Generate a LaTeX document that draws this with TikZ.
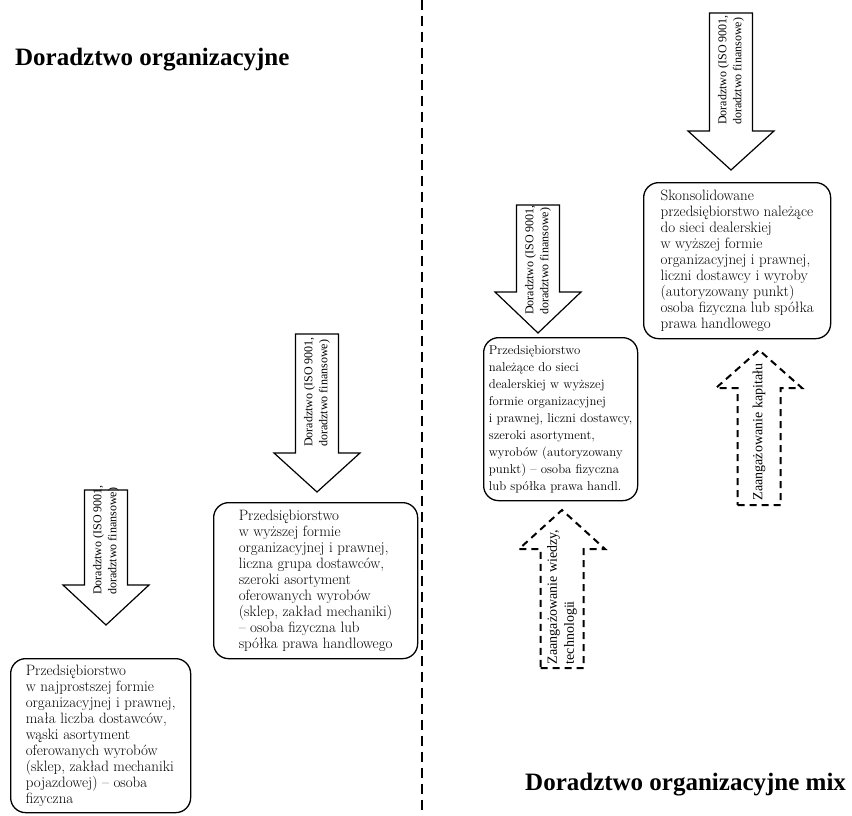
\documentclass[tikz,border=0pt]{standalone}
\usepackage{fontspec}
\newfontfamily\timesfont{Liberation Serif}
\newcommand{\blockarrow}[5][]{%
  \draw[barrow,#1] (#2-21.5,#3) -- (#2+21.5,#3) -- (#2+21.5,#4) -- (#2+43,#4)
    -- (#2,#5) -- (#2-43,#4) -- (#2-21.5,#4) -- cycle;}

\begin{document}
\begin{tikzpicture}[x=1pt,y=-1pt,line join=miter]
	\tikzstyle{box}=[draw,line width=1.3pt,rounded corners=15pt,anchor=north west,align=left,inner sep=0pt,font=\fontsize{15}{16}\selectfont];
	\tikzstyle{barrow}=[draw,line width=1.2pt,fill=white];
	\tikzstyle{dbarrow}=[dash pattern=on 7pt off 5pt,line width=2pt];
	\tikzstyle{atxt}=[rotate=90,align=left,inner sep=0pt,font=\timesfont\fontsize{12}{15}\selectfont];
	\tikzstyle{dtxt}=[atxt,font=\timesfont\fontsize{14}{17}\selectfont];
	\tikzstyle{title}=[anchor=base west,inner sep=0pt,font=\timesfont\bfseries\fontsize{25}{30}\selectfont];
	\tikzstyle{sep}=[dash pattern=on 10pt off 6pt,line width=2.2pt];
	\useasboundingbox (0,0) rectangle (852,816);
	% dividing line
	\draw[sep] (422,0) -- (422,816);
	\node[title] (org)    at (15,66)  {Doradztwo organizacyjne};
	\node[title] (orgmix) at (525,790) {Doradztwo organizacyjne mix};
	% left half
	\blockarrow{106}{490}{585}{625}
	\node[atxt] (t1) at (106,540) {Doradztwo (ISO 9001,\\doradztwo finansowe)};
	\node[box,minimum width=180,minimum height=154] (b1) at (10,658)
		{Przedsiębiorstwo\\w najprostszej formie\\organizacyjnej i prawnej,\\mała liczba dostawców,\\wąski asortyment\\oferowanych wyrobów\\(sklep, zakład mechaniki\\pojazdowej) – osoba\\fizyczna};
	\blockarrow{317}{334}{453}{492}
	\node[atxt] (t2) at (317,392) {Doradztwo (ISO 9001,\\doradztwo finansowe)};
	\node[box,minimum width=204,minimum height=156] (b2) at (213,502)
		{Przedsiębiorstwo\\w wyższej formie\\organizacyjnej i prawnej,\\liczna grupa dostawców,\\szeroki asortyment\\oferowanych wyrobów\\(sklep, zakład mechaniki)\\– osoba fizyczna lub\\spółka prawa handlowego};
	% right half
	\blockarrow{538}{205}{292}{333}
	\node[atxt] (t3) at (538,260) {Doradztwo (ISO 9001,\\doradztwo finansowe)};
	\node[box,minimum width=154,minimum height=163,font=\fontsize{12.8}{17}\selectfont] (b3) at (483,337)
		{Przedsiębiorstwo\\należące do sieci\\dealerskiej w wyższej\\formie organizacyjnej\\i prawnej, liczni dostawcy,\\szeroki asortyment,\\wyrobów (autoryzowany\\punkt) – osoba fizyczna\\lub spółka prawa handl.};
	\blockarrow[dbarrow]{562}{668}{549}{510}
	\node[dtxt] (t4) at (562,597) {Zaangażowanie wiedzy,\\technologii};
	\blockarrow{731}{13}{131}{170}
	\node[atxt] (t5) at (731,70) {Doradztwo (ISO 9001,\\doradztwo finansowe)};
	\node[box,minimum width=187,minimum height=156] (b4) at (643,182)
		{Skonsolidowane\\przedsiębiorstwo należące\\do sieci dealerskiej\\w wyższej formie\\organizacyjnej i prawnej,\\liczni dostawcy i wyroby\\(autoryzowany punkt)\\osoba fizyczna lub spółka\\prawa handlowego};
	\blockarrow[dbarrow]{759}{505}{388}{350}
	\node[dtxt] (t6) at (759,432) {Zaangażowanie kapitału};
\end{tikzpicture}
\end{document}
